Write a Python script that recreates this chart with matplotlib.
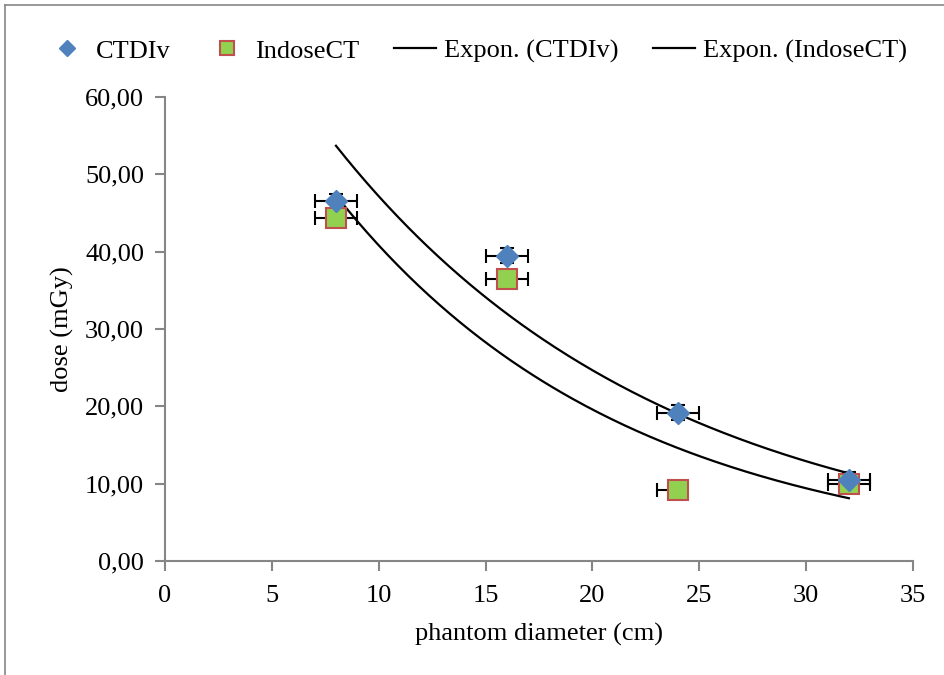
import numpy as np
import matplotlib
matplotlib.use("Agg")
import matplotlib.pyplot as plt
from matplotlib.lines import Line2D

plt.rcParams['font.family'] = ['Liberation Serif', 'DejaVu Serif']

diameter = [8, 16, 24, 32]
ctdiv = [46.5, 39.5, 19.2, 10.5]
indose = [44.3, 36.5, 9.2, 9.9]
x_err = [1, 1, 1, 1]
ctdiv_yerr = [1.0, 1.0, 1.0, 1.0]
indose_xerr_left = [1, 1, 1, 1]
indose_xerr_right = [1, 1, 0, 1]

xticks = [0, 5, 10, 15, 20, 25, 30, 35]
yticks = [0, 10, 20, 30, 40, 50, 60]

FS = 19

fig = plt.figure(figsize=(9.44, 6.75), dpi=100)
ax = fig.add_axes([165/944, 1-561/675, (913-165)/944, (561-97)/675])

# figure border (left and top visible)
fig.add_artist(Line2D([5/944, 5/944], [0, 1-5/675], transform=fig.transFigure, color='#868686', lw=1.2))
fig.add_artist(Line2D([5/944, 1], [1-5/675, 1-5/675], transform=fig.transFigure, color='#868686', lw=1.2))

# exponential trendlines (least squares on log)
xs = np.linspace(8, 32, 200)
for ser in (ctdiv, indose):
    b, loga = np.polyfit(diameter, np.log(ser), 1)
    ax.plot(xs, np.exp(loga) * np.exp(b * xs), color='black', lw=1.6, zorder=2)

ax.errorbar(diameter, indose, xerr=[indose_xerr_left, indose_xerr_right], fmt='none',
            ecolor='black', elinewidth=1.5, capsize=5, capthick=1.5, zorder=3)
ax.errorbar(diameter, ctdiv, xerr=x_err, yerr=ctdiv_yerr, fmt='none',
            ecolor='black', elinewidth=1.5, capsize=5, capthick=1.5, zorder=3)
ax.plot(diameter, indose, linestyle='none', marker='s', markersize=14,
        markerfacecolor='#92D050', markeredgecolor='#C0504D', markeredgewidth=1.5, zorder=4)
ax.plot(diameter, ctdiv, linestyle='none', marker='D', markersize=11,
        markerfacecolor='#4F81BD', markeredgecolor='#4F81BD', zorder=5)

ax.set_xlim(0, 35)
ax.set_ylim(0, 60)
ax.set_xticks(xticks)
ax.set_yticks(yticks)
ax.set_xticklabels([str(t) for t in xticks])
ax.set_yticklabels([f"{t:.2f}".replace('.', ',') for t in yticks])
for s in ('top', 'right'):
    ax.spines[s].set_visible(False)
for s in ('left', 'bottom'):
    ax.spines[s].set_color('#868686')
    ax.spines[s].set_linewidth(1.5)
ax.tick_params(axis='both', direction='out', length=7, width=1.5, color='#868686',
               labelsize=FS)
ax.tick_params(axis='x', pad=10)
ax.tick_params(axis='y', pad=8)
ax.set_xlabel('phantom diameter (cm)', fontsize=FS, labelpad=12)
ax.set_ylabel('dose (mGy)', fontsize=FS, labelpad=8)

handles = [
    Line2D([], [], linestyle='none', marker='D', markersize=8, markerfacecolor='#4F81BD', markeredgecolor='#4F81BD'),
    Line2D([], [], linestyle='none', marker='s', markersize=10, markerfacecolor='#92D050', markeredgecolor='#C0504D', markeredgewidth=1.5),
    Line2D([], [], color='black', lw=1.6),
    Line2D([], [], color='black', lw=1.6),
]
labels = ['CTDIv', 'IndoseCT', 'Expon. (CTDIv)', 'Expon. (IndoseCT)']
fig.legend(handles, labels, loc='center', bbox_to_anchor=(0.505, 1-51/675), ncol=4,
           frameon=False, fontsize=FS, handlelength=1.6, handletextpad=0.3, columnspacing=1.3)

fig.savefig('out.png', dpi=100)
